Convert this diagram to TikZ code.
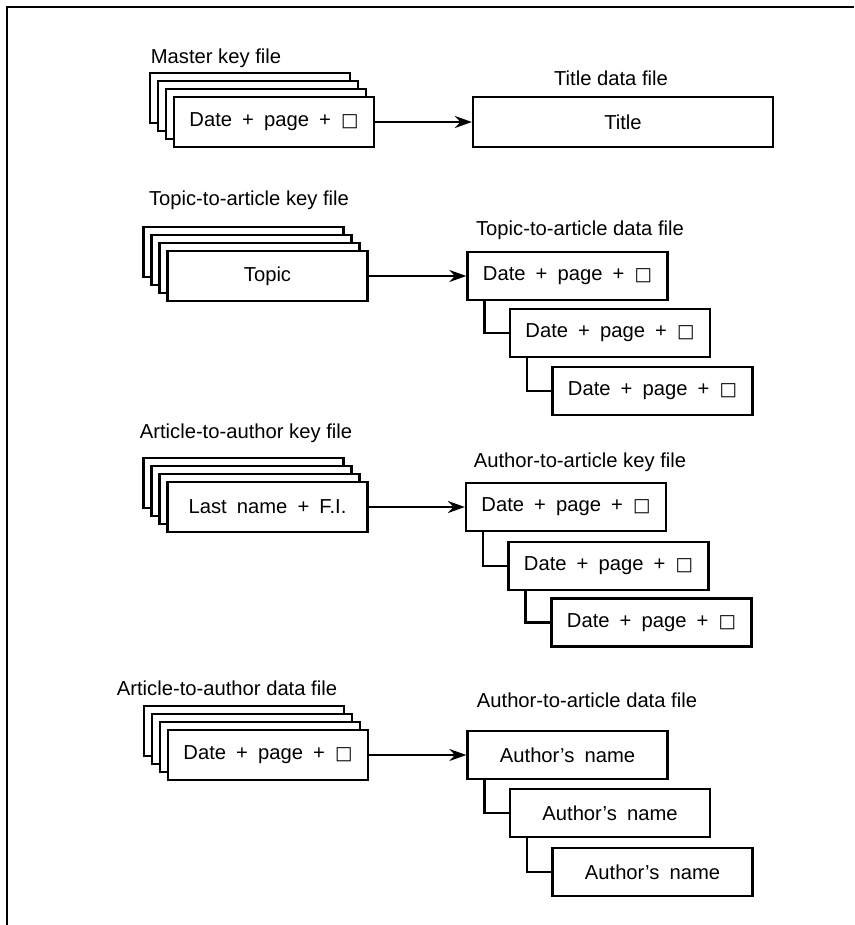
\documentclass[tikz,border=0pt]{standalone}
\usepackage{fontspec}
\setmainfont{Liberation Sans}
\newfontfamily\symfont{DejaVu Sans}
\usepackage{tikz}
\usetikzlibrary{arrows.meta}
\usetikzlibrary{calc}
\newcommand{\hollowsq}{{\symfont\fontsize{10.5}{12}\selectfont □}}
\newcommand{\boxfont}{\fontsize{11.5}{13}\selectfont\spaceskip=0.5em plus 0.1em}
\tikzstyle{block} = [draw, fill=white,
	line width=1.3pt,
	minimum width = 4cm,
	minimum height = 1cm,
	font=\boxfont]
\tikzstyle{datablock} = [block, minimum height = 0.96cm]
\tikzstyle{caption} = [font=\fontsize{11.5}{13}\selectfont]
\tikzstyle{arrow} = [-{Stealth[length=3.4mm, width=2.4mm]}, line width=1.3pt]
\tikzstyle{link} = [line width=1.3pt]
\newcommand{\drawstack}[3]{\foreach \k in {3,2,1}
		\node[block] (#1\k) at ($ #2 + (-0.16*\k, 0.16*\k) $) {};
	\node[block] (#1) at #2 {#3}}
\newcommand{\drawchain}[1]{\draw[link] ($(#11.south west) + (0.36cm, 0)$) |- (#12.west);
	\draw[link] ($(#12.south west) + (0.36cm, 0)$) |- (#13.west)}

\begin{document}
\begin{tikzpicture}
			\useasboundingbox (0,0) rectangle (17.08,-18.5);
			\draw[line width=1.6pt] (0.14,-18.5) -- (0.14,-0.14) -- (17.08,-0.14);
			
			\node (mkeylbl) [caption] at (4.32,-1.16) {Master key file};
			\drawstack{mkey}{(5.48,-2.44)}{Date + page + \hollowsq};
			\node (titlelbl) [caption] at (12.22,-1.56) {Title data file};
			\node (title) [block, minimum width=6cm] at (12.46,-2.44) {Title};
			\draw [arrow] (mkey) -- (title);
			
			\node (tkeylbl) [caption] at (4.98,-4.0) {Topic-to-article key file};
			\drawstack{tkey}{(5.35,-5.52)}{Topic};
			\node (tdatalbl) [caption] at (11.6,-4.6) {Topic-to-article data file};
			\node (tdata1) [datablock] at (11.35,-5.52) {Date + page + \hollowsq};
			\node (tdata2) [datablock] at (12.2,-6.66) {Date + page + \hollowsq};
			\node (tdata3) [datablock] at (13.05,-7.82) {Date + page + \hollowsq};
			\drawchain{tdata};
			\draw [arrow] (tkey) -- (tdata1);
			
			\node (akeylbl) [caption] at (4.92,-8.66) {Article-to-author key file};
			\drawstack{akey}{(5.35,-10.14)}{Last name + F.I.};
			\node (adatalbl) [caption] at (11.6,-9.24) {Author-to-article key file};
			\node (adata1) [datablock] at (11.32,-10.14) {Date + page + \hollowsq};
			\node (adata2) [datablock] at (12.17,-11.32) {Date + page + \hollowsq};
			\node (adata3) [datablock] at (13.03,-12.45) {Date + page + \hollowsq};
			\drawchain{adata};
			\draw [arrow] (akey) -- (adata1);
			
			\node (dkeylbl) [caption] at (4.54,-13.76) {Article-to-author data file};
			\drawstack{dkey}{(5.36,-15.1)}{Date + page + \hollowsq};
			\node (ddatalbl) [caption] at (11.74,-14.0) {Author-to-article data file};
			\node (ddata1) [datablock] at (11.35,-15.1) {Author's name};
			\node (ddata2) [datablock] at (12.2,-16.26) {Author's name};
			\node (ddata3) [datablock] at (13.05,-17.44) {Author's name};
			\drawchain{ddata};
			\draw [arrow] (dkey) -- (ddata1);
		\end{tikzpicture}
\end{document}
